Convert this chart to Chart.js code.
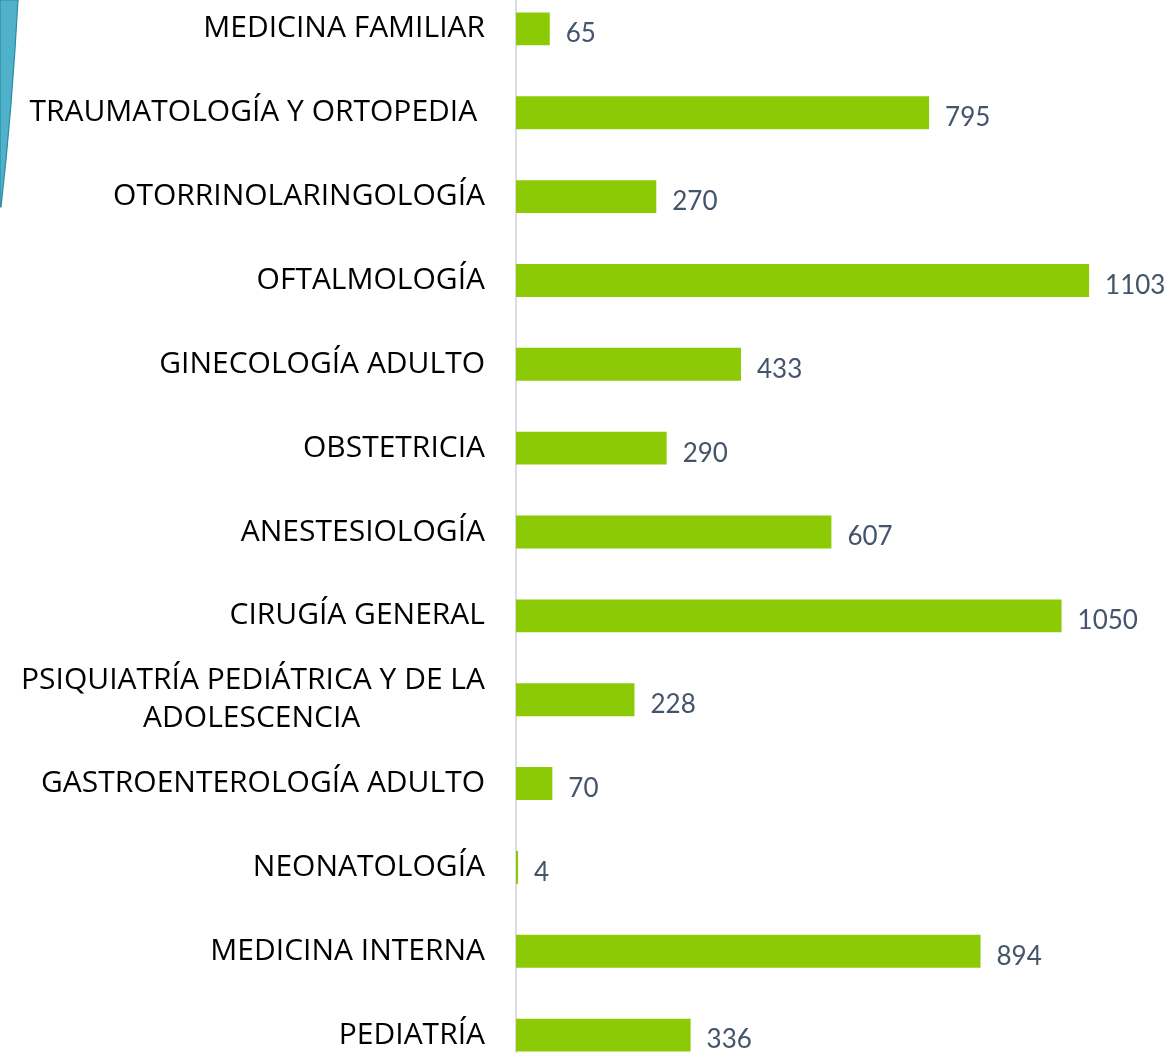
<!DOCTYPE html>
<html>
<head>
<meta charset="utf-8">
<script src="https://cdn.jsdelivr.net/npm/chart.js@4"></script>
<style>
  html, body { margin: 0; padding: 0; background: #fff; overflow: hidden; }
  body { width: 1166px; height: 1053px; position: relative; }
  #wrap { position: absolute; left: 0; top: -13px; width: 1166px; height: 1090px; }
  #deco { position: absolute; left: 0; top: 0; }
</style>
</head>
<body>
<div id="wrap"><canvas id="chart"></canvas></div>
<svg id="deco" width="30" height="215">
  <path d="M0,0 L18,0 Q12,110 1,207 L0,207 Z" fill="#4fb2ca" stroke="#2c8aa2" stroke-width="1.2"/>
</svg>
<script>
// specialties, top to bottom
const categories = [
  'MEDICINA FAMILIAR',
  'TRAUMATOLOGÍA Y ORTOPEDIA ',
  'OTORRINOLARINGOLOGÍA',
  'OFTALMOLOGÍA',
  'GINECOLOGÍA ADULTO',
  'OBSTETRICIA',
  'ANESTESIOLOGÍA',
  'CIRUGÍA GENERAL',
  ['PSIQUIATRÍA PEDIÁTRICA Y DE LA', 'ADOLESCENCIA                '],
  'GASTROENTEROLOGÍA ADULTO',
  'NEONATOLOGÍA',
  'MEDICINA INTERNA',
  'PEDIATRÍA'
];
const values = [65, 795, 270, 1103, 433, 290, 607, 1050, 228, 70, 4, 894, 336];

const BAR = '#8cca06';
const LABEL = '#44546a';

// value labels right of each bar
const valueLabels = {
  id: 'valueLabels',
  afterDatasetsDraw(chart) {
    const ctx = chart.ctx;
    const meta = chart.getDatasetMeta(0);
    ctx.save();
    ctx.font = '26px Lato';
    ctx.fillStyle = LABEL;
    ctx.textAlign = 'left';
    ctx.textBaseline = 'middle';
    meta.data.forEach((el, i) => {
      ctx.fillText(String(values[i]), el.x + 16, el.y + 5);
    });
    ctx.restore();
  }
};

new Chart(document.getElementById('chart'), {
  type: 'bar',
  data: {
    labels: categories,
    datasets: [{
      data: values,
      backgroundColor: BAR,
      borderWidth: 0,
      barPercentage: 0.4,
      categoryPercentage: 0.98
    }]
  },
  options: {
    indexAxis: 'y',
    responsive: true, maintainAspectRatio: false,
    animation: false,
    layout: { padding: 0 },
    plugins: { legend: { display: false }, tooltip: { enabled: false } },
    scales: {
      x: {
        min: 0, max: 1251,
        display: false
      },
      y: {
        afterFit: s => { s.width = 516; s.paddingTop = 0; s.paddingBottom = 0; },
        grid: { display: false, drawTicks: false },
        border: { display: true, color: '#d9dee6', width: 2 },
        ticks: {
          color: '#000',
          padding: 31,
          font: { family: 'Open Sans', size: 30, lineHeight: 1.27 }
        }
      }
    }
  },
  plugins: [valueLabels]
});
</script>
</body>
</html>
